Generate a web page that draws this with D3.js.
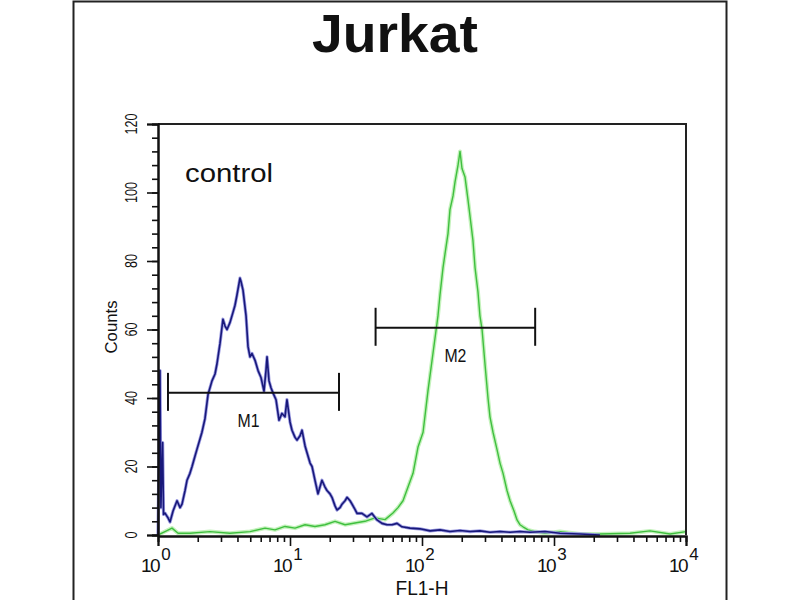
<!DOCTYPE html>
<html>
<head>
<meta charset="utf-8">
<script src="https://cdn.jsdelivr.net/npm/d3@7"></script>
<style>
  body { margin: 0; background: #fff; }
  svg { display: block; font-family: "Liberation Sans", Arial, sans-serif; }
</style>
</head>
<body>
<svg id="chart" width="800" height="600"></svg>
<script>
// ---- data ----
const title = "Jurkat";
const xLabel = "FL1-H";
const yLabel = "Counts";
const sampleLabel = "control";

// control histogram (blue): log10(FL1-H) positions and counts
const blueDecade = [0.000,0.015,0.022,0.035,0.042,0.053,0.076,0.091,0.114,0.144,
  0.167,0.182,0.205,0.220,0.242,0.258,0.280,0.295,0.318,0.333,
  0.356,0.379,0.409,0.432,0.447,0.470,0.492,0.508,0.523,0.545,
  0.568,0.583,0.598,0.621,0.629,0.644,0.667,0.682,0.697,0.712,
  0.735,0.758,0.780,0.803,0.818,0.826,0.841,0.856,0.871,0.894,
  0.917,0.939,0.962,0.977,1.000,1.015,1.038,1.053,1.076,1.091,
  1.114,1.129,1.152,1.167,1.189,1.212,1.227,1.242,1.265,1.280,
  1.303,1.318,1.341,1.356,1.379,1.394,1.417,1.432,1.455,1.470,
  1.492,1.508,1.545,1.583,1.621,1.659,1.697,1.735,1.773,1.811,
  1.848,1.909,1.985,2.061,2.136,2.212,2.288,2.364,2.439,2.515,
  2.591,2.667,2.742,2.818,2.932,3.045,3.197,3.348];
const blueCounts = [0,48,8,27,6,6.4,5,3.8,7,10,
  8,9,13,16,18,20,23,25,28,30,
  34,41,45,47,50,56,63,61,60,62,
  65,67,70,75,74,71.5,64,55,52,53,
  51,48,46,42,48,52,45,43,41.5,39.5,
  33.5,35.5,34.5,39.5,33,30.6,28.5,27.7,29,30.6,
  26,24,21,20,16,12,14,16,14,13,
  12,11,8.5,7.3,8,9,10,11,10,9,
  7.5,6.3,6.3,5.3,6.3,4.4,3.4,3,3,3.4,
  2.4,2,1.8,1.2,1.5,1,1.3,1,1.2,0.8,
  1,0.8,1,0.8,1,0.5,0.3,0];

// stained histogram (green)
const greenDecade = [0.000,0.053,0.106,0.152,0.242,0.394,0.545,0.697,0.811,0.886,
  0.962,1.038,1.114,1.189,1.265,1.341,1.417,1.492,1.568,1.644,
  1.720,1.780,1.818,1.856,1.894,1.932,1.970,2.008,2.045,2.083,
  2.121,2.136,2.159,2.174,2.197,2.212,2.235,2.250,2.273,2.288,
  2.303,2.326,2.348,2.364,2.386,2.402,2.424,2.439,2.455,2.477,
  2.500,2.515,2.538,2.568,2.591,2.614,2.644,2.667,2.697,2.720,
  2.742,2.765,2.803,2.856,2.932,3.045,3.197,3.348,3.576,3.727,
  3.879,4.000];
const greenCounts = [0,1,2,0.5,0.5,1,0.5,1,2,1.5,
  2.5,2,3,2.5,3,4,3,3.5,4,5,
  4.5,6.4,8,10,14,18,25.7,30,42,53,
  64,70,78,82,88,95,99,103,108,112,
  107,104.5,98,93,86,78,71,64,60,50,
  40,34.5,30,25,21,18,13,10,7,4.4,
  3,2.4,1.5,1,0.5,1,0.3,0.3,0.5,1.2,
  0.3,1];

// markers: label, start FL1-H, end FL1-H, count level
const markerNames = ["M1", "M2"];
const markerStart = [1.19, 44.5];
const markerEnd = [23.5, 720];
const markerLevel = [41.5, 60.5];

const yMajorTicks = [0, 20, 40, 60, 80, 100, 120];
const yMinorTicks = d3.range(0, 121, 4);
const xMajorTicks = [1, 10, 100, 1000, 10000];
const xMajorExp = ["0", "1", "2", "3", "4"];
const xMinorTicks = [1, 10, 100, 1000].flatMap(d => [2,3,4,5,6,7,8,9].map(k => k * d));

// ---- layout ----
const svg = d3.select("#chart");
const L = 158, R = 686, T = 124, B = 535;
const x = d3.scaleLog().domain([1, 10000]).range([L, R]);
const y = d3.scaleLinear().domain([0, 120]).range([B, T]);

// outer frame
svg.append("rect").attr("x", 73.5).attr("y", 1.5).attr("width", 653).attr("height", 610)
  .attr("fill", "none").attr("stroke", "#222").attr("stroke-width", 2);

// title
svg.append("text").attr("x", 395).attr("y", 52).attr("text-anchor", "middle")
  .attr("font-size", 54).attr("font-weight", "bold").attr("fill", "#111")
  .attr("textLength", 166).attr("lengthAdjust", "spacingAndGlyphs").text(title);

// curves
const lineGen = d3.line().x(d => x(Math.pow(10, d[0]))).y(d => y(d[1]));
const greenPts = greenDecade.map((d, i) => [d, greenCounts[i]]);
const bluePts = blueDecade.map((d, i) => [d, blueCounts[i]]);

svg.append("path").datum(greenPts).attr("d", lineGen).attr("fill", "none")
  .attr("stroke", "#c4f2bc").attr("stroke-width", 4).attr("stroke-linejoin", "round");
svg.append("path").datum(greenPts).attr("d", lineGen).attr("fill", "none")
  .attr("stroke", "#3fbf3f").attr("stroke-width", 1.4).attr("stroke-linejoin", "round");

svg.append("path").datum(bluePts).attr("d", lineGen).attr("fill", "none")
  .attr("stroke", "#9a9ae0").attr("stroke-width", 3.2).attr("stroke-linejoin", "round");
svg.append("path").datum(bluePts).attr("d", lineGen).attr("fill", "none")
  .attr("stroke", "#18187a").attr("stroke-width", 1.6).attr("stroke-linejoin", "round");

// plot frame (top and right)
svg.append("path").attr("d", `M${L},${T}H${R}V${B}`).attr("fill", "none")
  .attr("stroke", "#222").attr("stroke-width", 2);

// y axis
const yMinor = svg.append("g").attr("transform", `translate(${L},0)`)
  .call(d3.axisLeft(y).tickValues(yMinorTicks).tickSize(6).tickFormat(""));
const yMajor = svg.append("g").attr("transform", `translate(${L},0)`)
  .call(d3.axisLeft(y).tickValues(yMajorTicks).tickSize(11).tickFormat(""));
[yMinor, yMajor].forEach(g => {
  g.selectAll("path").attr("stroke", "#111").attr("stroke-width", 2);
  g.selectAll("line").attr("stroke", "#111").attr("stroke-width", 1.6);
});
svg.append("g").selectAll("text").data(yMajorTicks).join("text")
  .attr("transform", d => `translate(137,${y(d)}) rotate(-90)`)
  .attr("text-anchor", "middle").attr("font-size", 16).attr("fill", "#111")
  .attr("textLength", d => String(d).length * 7).attr("lengthAdjust", "spacingAndGlyphs")
  .text(d => d);

// x axis
const xMinor = svg.append("g").attr("transform", `translate(0,${B + 1})`)
  .call(d3.axisBottom(x).tickValues(xMinorTicks).tickSize(6).tickFormat(""));
const xMajor = svg.append("g").attr("transform", `translate(0,${B + 1})`)
  .call(d3.axisBottom(x).tickValues(xMajorTicks).tickSize(10).tickFormat(""));
[xMinor, xMajor].forEach(g => {
  g.selectAll("path").attr("stroke", "#111").attr("stroke-width", 2);
  g.selectAll("line").attr("stroke", "#111").attr("stroke-width", 1.6);
});
const xt = svg.append("g").selectAll("text").data(xMajorTicks).join("text")
  .attr("x", d => x(d) - 17).attr("y", 572).attr("fill", "#111");
xt.append("tspan").attr("font-size", 19).attr("letter-spacing", -1.5).text("10");
xt.append("tspan").attr("dx", 2).attr("dy", -12).attr("font-size", 17)
  .text((d, i) => xMajorExp[i]);

// axis titles
svg.append("text").attr("x", 422).attr("y", 595).attr("text-anchor", "middle")
  .attr("font-size", 20).attr("fill", "#111")
  .attr("textLength", 53).attr("lengthAdjust", "spacingAndGlyphs").text(xLabel);
svg.append("text").attr("transform", "translate(117,327) rotate(-90)")
  .attr("text-anchor", "middle").attr("font-size", 17).attr("fill", "#111")
  .attr("textLength", 53).attr("lengthAdjust", "spacingAndGlyphs").text(yLabel);

// sample label
svg.append("text").attr("x", 185).attr("y", 182).attr("font-size", 25).attr("fill", "#111")
  .attr("textLength", 88).attr("lengthAdjust", "spacingAndGlyphs").text(sampleLabel);

// markers
markerNames.forEach((name, i) => {
  const x0 = x(markerStart[i]), x1 = x(markerEnd[i]), yy = y(markerLevel[i]);
  const g = svg.append("g").attr("stroke", "#111").attr("stroke-width", 2);
  g.append("line").attr("x1", x0).attr("x2", x1).attr("y1", yy).attr("y2", yy);
  g.append("line").attr("x1", x0).attr("x2", x0).attr("y1", yy - 20).attr("y2", yy + 18);
  g.append("line").attr("x1", x1).attr("x2", x1).attr("y1", yy - 20).attr("y2", yy + 18);
  svg.append("text").attr("x", (x0 + x1) / 2 - (i === 0 ? 5 : 0)).attr("y", yy + 34)
    .attr("text-anchor", "middle").attr("font-size", 18).attr("fill", "#111")
    .attr("textLength", 22).attr("lengthAdjust", "spacingAndGlyphs").text(name);
});
</script>
</body>
</html>
